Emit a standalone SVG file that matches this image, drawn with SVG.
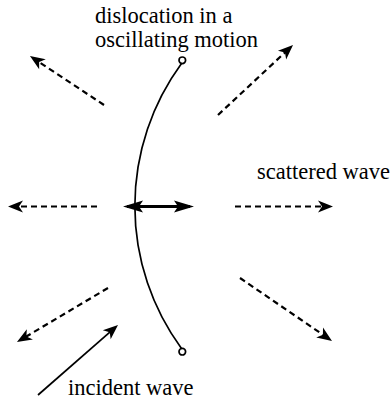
<svg xmlns="http://www.w3.org/2000/svg" width="391" height="402" viewBox="0 0 391 402">
<style>
text{font-family:"Liberation Serif","Times New Roman",serif;font-size:22.5px;fill:#000}
.dash{stroke:#000;stroke-width:2.2;stroke-dasharray:6 4;fill:none}
.solid{stroke:#000;stroke-width:1.7;fill:none}
</style>
<defs>
<marker id="ah" markerUnits="userSpaceOnUse" viewBox="-16 -8 22 16" refX="0" refY="0" markerWidth="22" markerHeight="16" orient="auto">
<path d="M4,0 L-11,-6 L-7,0 L-11,6 Z" fill="#000"/>
</marker>
<marker id="dh" markerUnits="userSpaceOnUse" viewBox="-20 -8 26 16" refX="0" refY="0" markerWidth="26" markerHeight="16" orient="auto-start-reverse">
<path d="M4,0 L-16,-6 L-12,0 L-16,6 Z" fill="#000"/>
</marker>
</defs>
<g id="dislocation">
<path d="M181.5,63.5 A241,241 0 0 0 181.5,348.5" fill="none" stroke="#000" stroke-width="1.7"/>
<circle cx="182.3" cy="60.3" r="3.3" fill="#fff" stroke="#000" stroke-width="1.7"/>
<circle cx="182.3" cy="351.7" r="3.3" fill="#fff" stroke="#000" stroke-width="1.7"/>
</g>
<g id="connectors">
<line x1="127" y1="206.5" x2="190" y2="206.5" stroke="#000" stroke-width="3" marker-start="url(#dh)" marker-end="url(#dh)"/>
<line class="dash" x1="104" y1="105" x2="33.3" y2="58.2" marker-end="url(#ah)"/>
<line class="dash" x1="218" y1="115" x2="290.1" y2="47.7" marker-end="url(#ah)"/>
<line class="dash" x1="97" y1="206.5" x2="12" y2="206.5" marker-end="url(#ah)"/>
<line class="dash" x1="235" y1="206.5" x2="329" y2="206.5" marker-end="url(#ah)"/>
<line class="dash" x1="108" y1="288" x2="20.4" y2="340" marker-end="url(#ah)"/>
<line class="dash" x1="240" y1="278" x2="328.7" y2="338.7" marker-end="url(#ah)"/>
<line class="solid" x1="38" y1="395" x2="115" y2="327.6" marker-end="url(#ah)"/>
</g>
<g id="labels">
<text x="95" y="22.7">dislocation in a</text>
<text x="95" y="47">oscillating motion</text>
<text x="257" y="179">scattered wave</text>
<text x="68" y="395">incident wave</text>
</g>
</svg>
